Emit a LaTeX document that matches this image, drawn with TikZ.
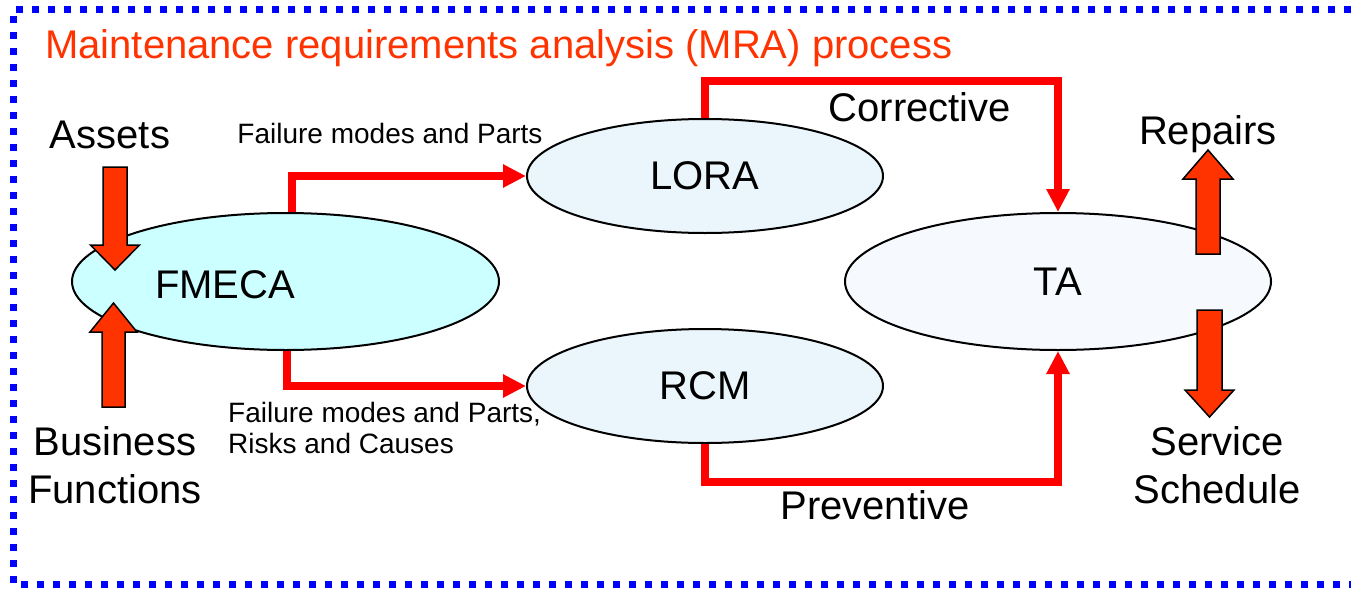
\documentclass[tikz,border=0pt]{standalone}
\usepackage{fontspec}
\setmainfont{Liberation Sans}
\usetikzlibrary{shapes.geometric,arrows.meta}
\definecolor{borderblue}{HTML}{0000FF}
\definecolor{titlered}{HTML}{FF3300}
\definecolor{connred}{HTML}{FF0000}
\definecolor{blockred}{HTML}{FF3300}
\definecolor{fmecafill}{HTML}{CCFFFF}
\definecolor{lorafill}{HTML}{EBF6FC}
\definecolor{tafill}{HTML}{F6FAFE}
\tikzset{
  oval/.style={ellipse, draw=black, line width=2pt, inner sep=0pt,
    font=\fontsize{40}{48}\selectfont},
  bigtext/.style={inner sep=0pt, font=\fontsize{40}{48}\selectfont, align=center},
  smalltext/.style={inner sep=0pt, font=\fontsize{28}{32}\selectfont},
  conn/.style={draw=connred, line width=8pt,
    -{Triangle[length=23pt,width=22pt]}},
  blockarrow/.style={draw=black, line width=1.5pt, fill=blockred, line join=miter},
}
\begin{document}
\begin{tikzpicture}[x=1pt,y=-1pt]
\useasboundingbox (0,0) rectangle (1351,589);
% border
\draw[borderblue, line width=7pt, dash pattern=on 7pt off 9pt]
  (1351,9.5) -- (13.5,9.5) -- (13.5,584.5) -- (1351,584.5);
% title
\node[anchor=base west, inner sep=0pt, text=titlered,
  font=\fontsize{40}{48}\selectfont] (title) at (45,58)
  {Maintenance requirements analysis (MRA) process};
% ellipses
\node[oval, fill=fmecafill, minimum width=427pt, minimum height=137pt] (fmeca) at (285.5,281.5) {};
\node[bigtext] (fmecalabel) at (225,285) {FMECA};
\node[oval, fill=lorafill, minimum width=356pt, minimum height=114pt] (lora) at (705,176) {LORA};
\node[oval, fill=lorafill, minimum width=356pt, minimum height=114pt] (rcm) at (705,386) {RCM};
\node[oval, fill=tafill, minimum width=426pt, minimum height=137pt] (ta) at (1058,281.5) {TA};
% connectors
\draw[conn] ([xshift=6pt]fmeca.north) |- (lora.west);
\draw[conn] ([xshift=1.5pt]fmeca.south) |- (rcm.west);
\draw[conn] (lora.north) -- ++(0,-37) -| (ta.north);
\draw[conn] (rcm.south) -- ++(0,38) -| (ta.south);
% labels
\node[smalltext] (lbl1) at (390,133) {Failure modes and Parts};
\node[smalltext, anchor=west, align=left] (lbl2) at (228,428)
  {Failure modes and Parts,\\[-1pt]Risks and Causes};
\node[bigtext] (corr) at (920,107) {Corrective};
\node[bigtext] (prev) at (875,505) {Preventive};
\node[bigtext] (assets) at (110,135) {Assets};
\node[bigtext] (bus) at (115,465) {Business\\Functions};
\node[bigtext, anchor=base] (rep) at (1208,144) {Repairs};
\node[bigtext] (serv) at (1217,465) {Service\\Schedule};
% block arrows
\draw[blockarrow] (103,167) -- (127,167) -- (127,245) -- (139.5,245) -- (115,270)
  -- (90.5,245) -- (103,245) -- cycle;
\draw[blockarrow] (102,407) -- (125,407) -- (125,332) -- (137,332) -- (113.5,303)
  -- (90,332) -- (102,332) -- cycle;
\draw[blockarrow] (1196,254) -- (1220,254) -- (1220,179) -- (1233,179) -- (1208,150)
  -- (1183,179) -- (1196,179) -- cycle;
\draw[blockarrow] (1197,310) -- (1222,310) -- (1222,390) -- (1234,390) -- (1209.5,417)
  -- (1185,390) -- (1197,390) -- cycle;
\end{tikzpicture}
\end{document}
